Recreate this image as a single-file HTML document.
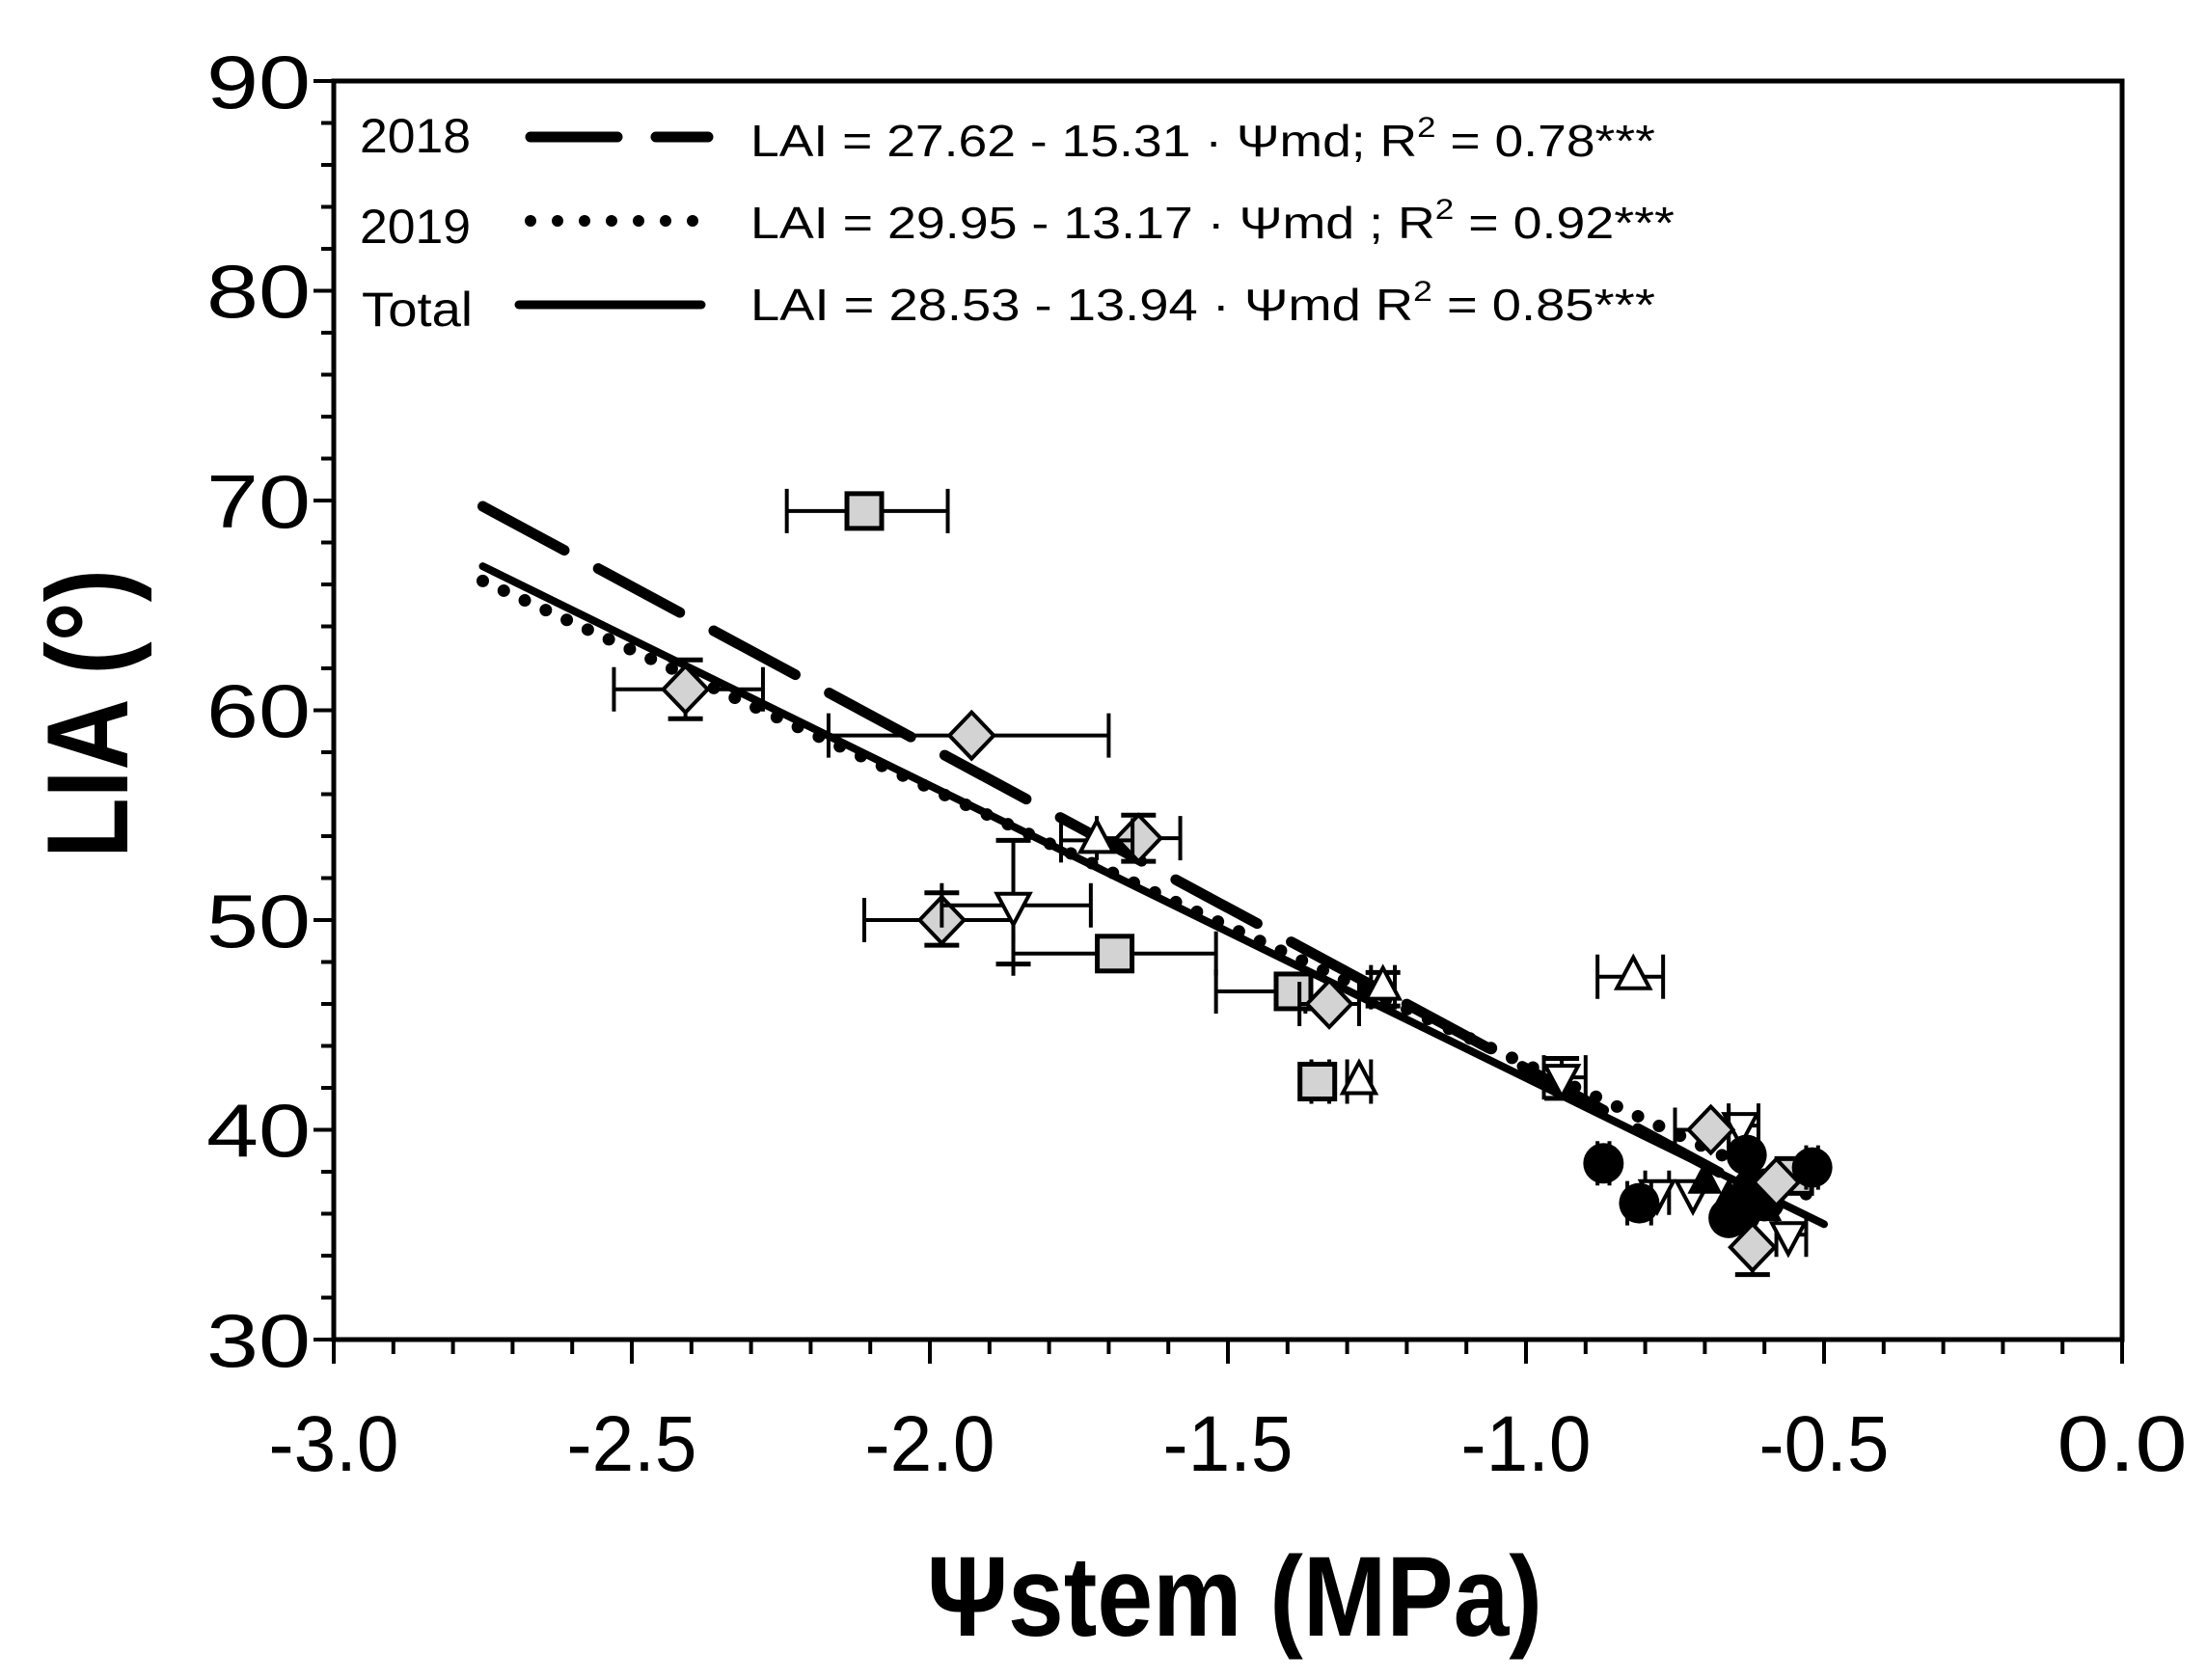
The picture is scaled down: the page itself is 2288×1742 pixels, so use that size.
<!DOCTYPE html>
<html><head><meta charset="utf-8"><style>
html,body{margin:0;padding:0;background:#fff;}
svg{display:block;}
text{font-family:"Liberation Sans",Arial,sans-serif;fill:#000;}
</style></head><body>
<svg id="s" width="2288" height="1742" viewBox="0 0 2288 1742" xmlns="http://www.w3.org/2000/svg">
<rect width="2288" height="1742" fill="#fff"/>
<g id="ticks" stroke="#000" stroke-width="4"></g>
<rect x="346" y="84" width="1854" height="1305" fill="none" stroke="#000" stroke-width="5"/>
<g font-size="78" text-anchor="end">
<text x="322" y="112" textLength="108" lengthAdjust="spacingAndGlyphs">90</text>
<text x="322" y="329" textLength="108" lengthAdjust="spacingAndGlyphs">80</text>
<text x="322" y="547" textLength="108" lengthAdjust="spacingAndGlyphs">70</text>
<text x="322" y="764" textLength="108" lengthAdjust="spacingAndGlyphs">60</text>
<text x="322" y="982" textLength="108" lengthAdjust="spacingAndGlyphs">50</text>
<text x="322" y="1199" textLength="108" lengthAdjust="spacingAndGlyphs">40</text>
<text x="322" y="1417" textLength="108" lengthAdjust="spacingAndGlyphs">30</text>
</g>
<g font-size="82" text-anchor="middle">
<text x="346" y="1525" textLength="135" lengthAdjust="spacingAndGlyphs">-3.0</text>
<text x="655" y="1525" textLength="135" lengthAdjust="spacingAndGlyphs">-2.5</text>
<text x="964" y="1525" textLength="135" lengthAdjust="spacingAndGlyphs">-2.0</text>
<text x="1273" y="1525" textLength="135" lengthAdjust="spacingAndGlyphs">-1.5</text>
<text x="1582" y="1525" textLength="135" lengthAdjust="spacingAndGlyphs">-1.0</text>
<text x="1891" y="1525" textLength="135" lengthAdjust="spacingAndGlyphs">-0.5</text>
<text x="2200" y="1525" textLength="135" lengthAdjust="spacingAndGlyphs">0.0</text>
</g>
<text x="0" y="0" font-size="120" font-weight="bold" text-anchor="middle" transform="translate(132,740) rotate(-90)" textLength="300" lengthAdjust="spacingAndGlyphs">LIA (°)</text>
<text x="1280" y="1696" font-size="118" font-weight="bold" text-anchor="middle" textLength="638" lengthAdjust="spacingAndGlyphs">Ψstem (MPa)</text>
<g font-size="46">
<text x="373" y="158" font-size="50" textLength="115" lengthAdjust="spacingAndGlyphs">2018</text>
<text x="373" y="252" font-size="50" textLength="115" lengthAdjust="spacingAndGlyphs">2019</text>
<text x="375" y="338" font-size="50" textLength="115" lengthAdjust="spacingAndGlyphs">Total</text>
<text x="778" y="162" textLength="938" lengthAdjust="spacingAndGlyphs">LAI = 27.62 - 15.31 · Ψmd; R<tspan dy="-20" font-size="30">2</tspan><tspan dy="20">  = 0.78***</tspan></text>
<text x="778" y="247" textLength="958" lengthAdjust="spacingAndGlyphs">LAI  = 29.95 - 13.17 · Ψmd ; R<tspan dy="-20" font-size="30">2</tspan><tspan dy="20"> = 0.92***</tspan></text>
<text x="778" y="332" textLength="938" lengthAdjust="spacingAndGlyphs">LAI  = 28.53 - 13.94 · Ψmd  R<tspan dy="-20" font-size="30">2</tspan><tspan dy="20"> = 0.85***</tspan></text>
</g>
<line x1="550" y1="142" x2="734" y2="142" stroke="#000" stroke-width="11" stroke-linecap="round" stroke-dasharray="90 40"/>
<line x1="550" y1="229" x2="720" y2="229" stroke="#000" stroke-width="12" stroke-linecap="round" stroke-dasharray="0 28"/>
<line x1="538" y1="316" x2="727" y2="316" stroke="#000" stroke-width="9" stroke-linecap="round"/>
<g id="reg"></g>
<g id="pts"></g>
</svg>
<script>
var NS="http://www.w3.org/2000/svg";
function X(v){return 346+(v+3)*618;}
function Y(d){return 1389-(d-30)*21.75;}
function el(p,tag,a){var e=document.createElementNS(NS,tag);for(var k in a)e.setAttribute(k,a[k]);document.getElementById(p).appendChild(e);return e;}
for(var d=30;d<=90;d+=2){var y=Y(d);var maj=(d%10==0);el('ticks','line',{x1:maj?325:333,y1:y,x2:346,y2:y});}
for(var i=0;i<=30;i++){var x=346+i*61.8;var maj=(i%5==0);el('ticks','line',{x1:x,y1:1389,x2:x,y2:maj?1414:1404});}
function reg(a,b,x0,x1,attrs){var o={x1:X(x0),y1:Y(a+b*x0),x2:X(x1),y2:Y(a+b*x1),stroke:'#000','stroke-linecap':'round'};for(var k in attrs)o[k]=attrs[k];el('reg','line',o);}
reg(27.62,-15.31,-2.75,-0.6,{'stroke-width':11,'stroke-dasharray':'96 40'});
reg(29.95,-13.17,-2.75,-0.5,{'stroke-width':13,'stroke-dasharray':'0 24'});
reg(28.53,-13.94,-2.75,-0.5,{'stroke-width':8});
var P=[
['sq',-2.11,69.5,-2.24,-1.97,68.9,70.1],
['sq',-1.69,48.4,-1.86,-1.52,null,null],
['sq',-1.39,46.6,-1.52,-1.37,null,null],
['sq',-1.35,42.3,-1.36,-1.33,null,null],
['sq',-0.55,37.8,null,null,null,null],
['di',-2.41,61.0,-2.53,-2.28,59.6,62.4],
['di',-1.93,58.8,-2.17,-1.70,null,null],
['di',-1.65,53.9,-1.72,-1.58,52.8,55.0],
['di',-1.98,50.0,-2.11,-1.86,48.8,51.3],
['di',-1.33,46.0,-1.38,-1.28,null,null],
['up',-1.72,53.8,-1.78,-1.66,null,null],
['up',-1.24,46.8,-1.26,-1.22,45.9,47.5],
['up',-0.82,47.3,-0.88,-0.77,null,null],
['up',-1.28,42.3,-1.30,-1.26,null,null],
['dn',-1.86,50.7,-1.98,-1.73,47.9,53.8],
['dn',-0.94,42.5,-0.97,-0.90,41.5,43.4],
['dn',-0.64,40.2,-0.66,-0.61,null,null],
['dn',-0.78,37.0,-0.80,-0.76,null,null],
['dn',-0.72,37.0,null,null,null,null],
['dn',-0.56,35.0,-0.58,-0.53,null,null],
['bc',-0.87,38.4,-0.88,-0.86,null,null],
['bc',-0.81,36.5,-0.83,-0.79,null,null],
['bc',-0.63,38.8,null,null,null,null],
['bc',-0.52,38.2,-0.53,-0.51,null,null],
['bc',-0.64,36.0,null,null,null,null],
['bc',-0.62,37.2,null,null,null,null],
['bc',-0.60,36.6,null,null,null,null],
['bc',-0.66,35.8,null,null,null,null],
['bt',-0.70,37.6,null,null,null,null],
['bt',-0.66,36.8,null,null,null,null],
['bt',-0.60,36.3,null,null,null,null],
['di',-0.69,40.0,-0.75,-0.66,null,null],
['di',-0.58,37.5,null,null,null,null],
['di',-0.62,34.4,null,null,33.1,34.4]
];
P.forEach(function(p){
 var cx=X(p[1]),cy=Y(p[2]);
 if(p[3]!==null){el('pts','line',{x1:X(p[3]),y1:cy,x2:X(p[4]),y2:cy,stroke:'#000','stroke-width':4});
  el('pts','line',{x1:X(p[3]),y1:cy-23,x2:X(p[3]),y2:cy+23,stroke:'#000','stroke-width':4});
  el('pts','line',{x1:X(p[4]),y1:cy-23,x2:X(p[4]),y2:cy+23,stroke:'#000','stroke-width':4});}
 if(p[5]!==null){el('pts','line',{x1:cx,y1:Y(p[5]),x2:cx,y2:Y(p[6]),stroke:'#000','stroke-width':4});
  el('pts','line',{x1:cx-18,y1:Y(p[5]),x2:cx+18,y2:Y(p[5]),stroke:'#000','stroke-width':5});
  el('pts','line',{x1:cx-18,y1:Y(p[6]),x2:cx+18,y2:Y(p[6]),stroke:'#000','stroke-width':5});}
 var t=p[0];
 if(t=='sq')el('pts','rect',{x:cx-18,y:cy-18,width:36,height:36,fill:'#d3d3d3',stroke:'#000','stroke-width':5});
 else if(t=='di')el('pts','polygon',{points:(cx)+','+(cy-24)+' '+(cx+23)+','+cy+' '+cx+','+(cy+24)+' '+(cx-23)+','+cy,fill:'#d3d3d3',stroke:'#000','stroke-width':4});
 else if(t=='up')el('pts','polygon',{points:cx+','+(cy-20)+' '+(cx+17)+','+(cy+12)+' '+(cx-17)+','+(cy+12),fill:'#fff',stroke:'#000','stroke-width':4});
 else if(t=='dn')el('pts','polygon',{points:cx+','+(cy+20)+' '+(cx+17)+','+(cy-12)+' '+(cx-17)+','+(cy-12),fill:'#fff',stroke:'#000','stroke-width':4});
 else if(t=='bc')el('pts','circle',{cx:cx,cy:cy,r:21,fill:'#000'});
 else if(t=='bt')el('pts','polygon',{points:cx+','+(cy-20)+' '+(cx+18)+','+(cy+14)+' '+(cx-18)+','+(cy+14),fill:'#000'});
});
</script>
</body></html>
